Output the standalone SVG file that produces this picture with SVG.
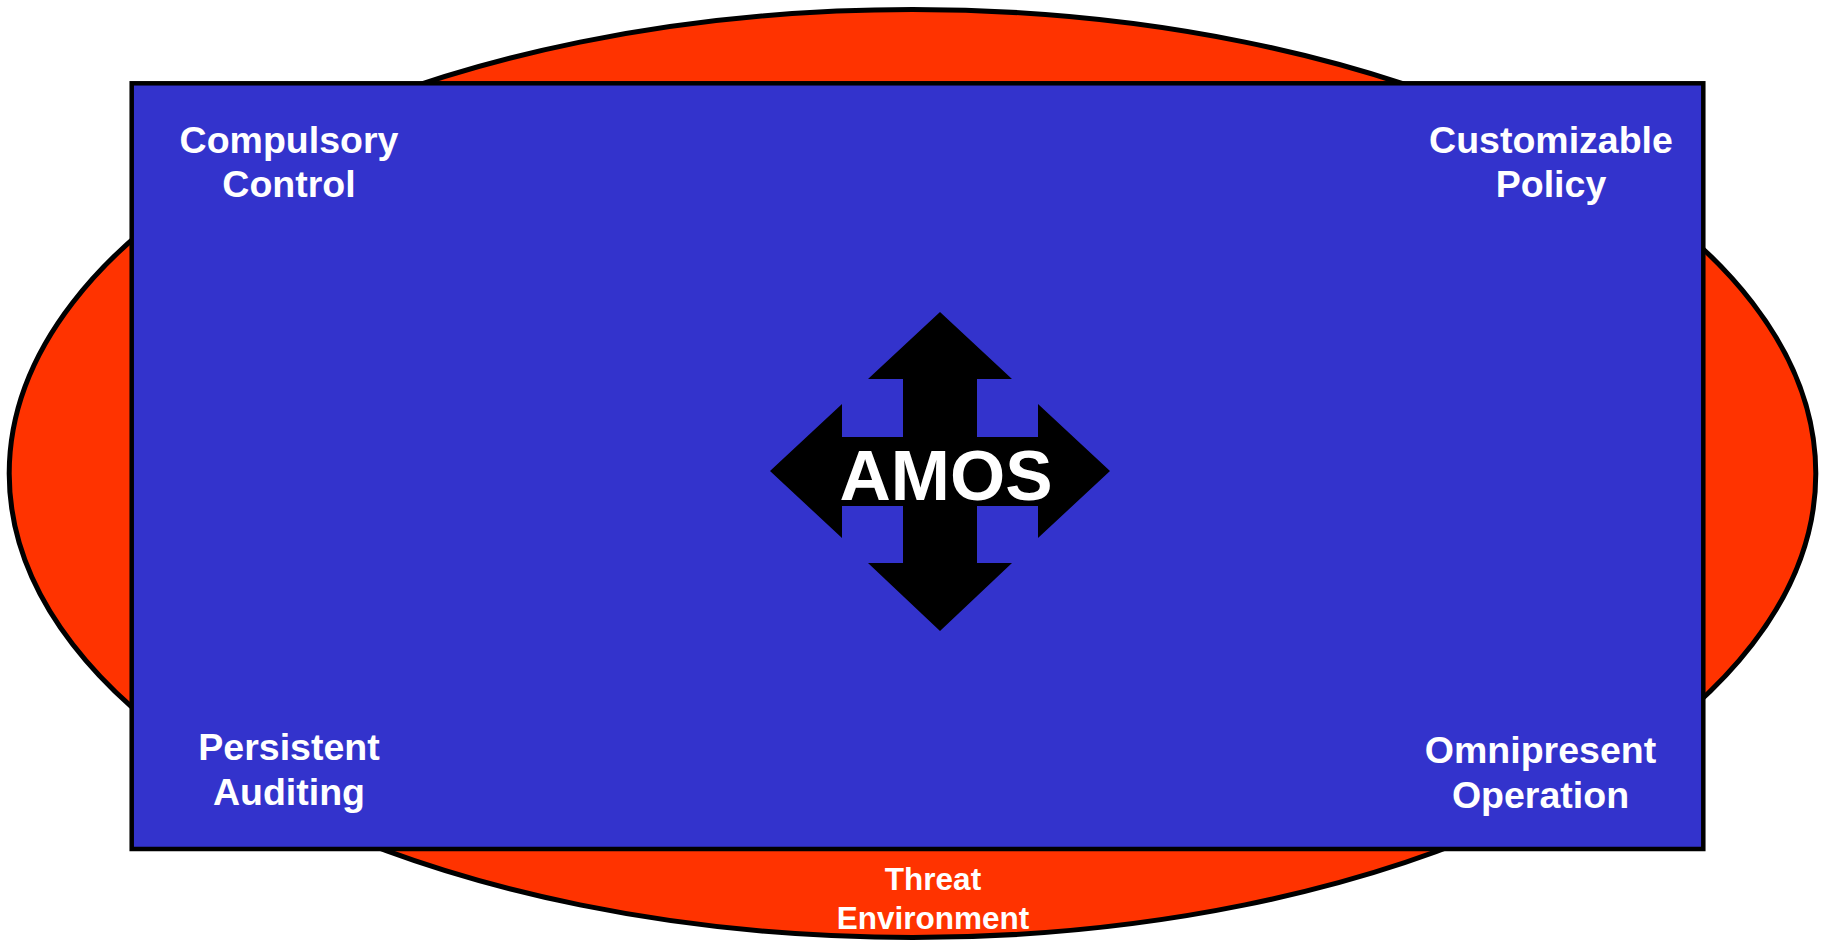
<svg xmlns="http://www.w3.org/2000/svg" width="1825" height="940" viewBox="0 0 1825 940">
<style>
.lbl{font-family:"Liberation Sans",Arial,sans-serif;font-weight:bold;fill:#ffffff;text-anchor:middle}
</style>
<rect width="1825" height="940" fill="#ffffff"/>
<g id="threat-environment">
<ellipse cx="912.5" cy="473.5" rx="903.3" ry="464" fill="#FF3300" stroke="#000" stroke-width="5"/>
<text class="lbl" x="933" y="890" font-size="31.5">Threat</text>
<text class="lbl" x="933" y="928.5" font-size="31.5">Environment</text>
</g>
<g id="amos-box">
<rect x="131.7" y="83.3" width="1571.6" height="765.7" fill="#3333CC" stroke="#000" stroke-width="4.5"/>
</g>
<g id="compulsory-control">
<text class="lbl" x="289" y="152.7" font-size="37.5">Compulsory</text>
<text class="lbl" x="289" y="196.7" font-size="37.5">Control</text>
</g>
<g id="customizable-policy">
<text class="lbl" x="1551" y="152.7" font-size="37.5">Customizable</text>
<text class="lbl" x="1551" y="197.3" font-size="37.5">Policy</text>
</g>
<g id="persistent-auditing">
<text class="lbl" x="289" y="760" font-size="37.5">Persistent</text>
<text class="lbl" x="289" y="805" font-size="37.5">Auditing</text>
</g>
<g id="omnipresent-operation">
<text class="lbl" x="1540.5" y="762.7" font-size="37.5">Omnipresent</text>
<text class="lbl" x="1540.5" y="808.3" font-size="37.5">Operation</text>
</g>
<g id="amos">
<path d="M940,312 L1012,379 L977,379 L977,437 L1038,437 L1038,404 L1110,471 L1038,538 L1038,506 L977,506 L977,563 L1012,563 L940,631 L868,563 L903,563 L903,506 L842,506 L842,538 L770,471 L842,404 L842,437 L903,437 L903,379 L868,379 Z" fill="#000"/>
<text class="lbl" x="946" y="500" font-size="71">AMOS</text>
</g>
<g id="connectors"></g>
</svg>
